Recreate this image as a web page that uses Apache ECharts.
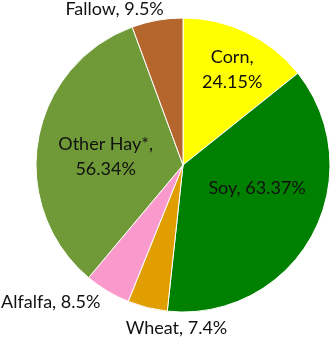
<!DOCTYPE html>
<html><head><meta charset="utf-8">
<script src="https://cdn.jsdelivr.net/npm/echarts@6/dist/echarts.min.js"></script>
<style>html,body{margin:0;padding:0;background:#fff}#c{width:333px;height:339px}</style>
</head><body><div id="c"></div>
<script>
var categories = ['Corn', 'Soy', 'Wheat', 'Alfalfa', 'Other Hay*', 'Fallow'];
var values = [24.15, 63.37, 7.4, 8.5, 56.34, 9.5];
var colors = ['#FFFF00', '#008000', '#E09E00', '#FA99CC', '#709A38', '#B4662C'];
var labelCfg = [
  {formatter: '{b},\n{c}%', offset: [16, -26]},
  {formatter: '{b}, {c}%', offset: [7, -14]},
  {formatter: '{b}, {c}%', offset: [12, 89]},
  {formatter: '{b}, {c}%', offset: [-93, 72]},
  {formatter: '{b},\n{c}%', offset: [-2, 5]},
  {formatter: '{b}, {c}%', offset: [-55, -80]}
];
var chart = echarts.init(document.getElementById('c'), null, {renderer: 'canvas'});
var data = categories.map(function (n, i) {
  return {name: n, value: values[i], itemStyle: {color: colors[i]}, label: labelCfg[i]};
});
chart.setOption({
  animation: false,
  series: [{
    type: 'pie',
    center: [183, 165],
    radius: 147,
    startAngle: 90,
    clockwise: true,
    itemStyle: {borderColor: '#fff', borderWidth: 1},
    label: {position: 'inside', fontFamily: 'Lato', fontSize: 18, color: '#111', lineHeight: 25},
    labelLine: {show: false},
    data: data
  }]
});
</script></body></html>
